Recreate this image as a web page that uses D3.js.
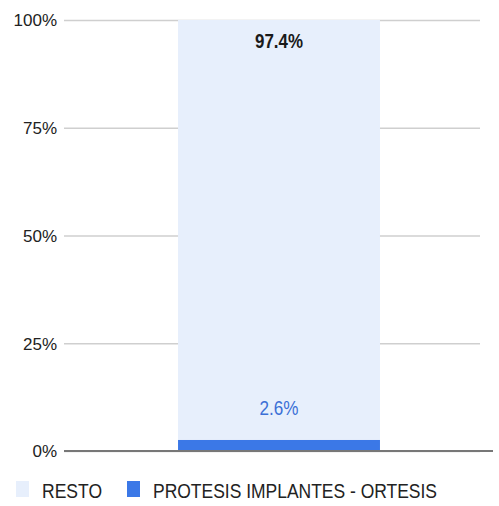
<!DOCTYPE html>
<html>
<head>
<meta charset="utf-8">
<script src="https://cdn.jsdelivr.net/npm/d3@7"></script>
<style>
  body { margin: 0; background: #fff; }
  text { font-family: "Liberation Sans", Arial, sans-serif; }
</style>
</head>
<body>
<div id="chart"></div>
<script>
// Chart data
var categories = ["Total"];
var seriesNames = ["PROTESIS  IMPLANTES - ORTESIS", "RESTO"];
var protesisVals = [0.026];
var restoVals = [0.974];
var yTicks = [0, 0.25, 0.5, 0.75, 1];

var svgWdt = 499;
var svgHgt = 506;
var margins = { top: 20, right: 19, bottom: 55, left: 64 };
var gridEnd = 480;

var svg = d3.select("#chart").append("svg")
    .attr("width", svgWdt)
    .attr("height", svgHgt);

// Scales
var yScale = d3.scaleLinear().domain([0, 1]).range([svgHgt - margins.bottom, margins.top]);
var xScale = d3.scaleBand().domain(categories)
    .range([margins.left + 7, gridEnd + 7])
    .paddingInner(0)
    .paddingOuter(0.53);

// Gridlines + tick labels
var yAxis = d3.axisLeft(yScale)
    .tickValues(yTicks)
    .tickFormat(d3.format(".0%"))
    .tickSize(-(gridEnd - margins.left))
    .tickPadding(7);

var axisGrp = svg.append("g")
    .attr("transform", `translate(${margins.left}, 0)`)
    .call(yAxis);
axisGrp.select(".domain").remove();
axisGrp.selectAll(".tick line")
    .attr("stroke", "#cfcfcf")
    .attr("stroke-width", 1.5);
axisGrp.selectAll(".tick text")
    .attr("fill", "#222")
    .attr("font-size", 17)
    .attr("dy", "0.35em");

// Stack the series
var rows = categories.map((c, i) => ({ cat: c, protesis: protesisVals[i], resto: restoVals[i] }));
var stack = d3.stack().keys(["protesis", "resto"])(rows);
var colors = { protesis: "#3b78e7", resto: "#e7effc" };

stack.forEach(layer => {
    svg.append("g").selectAll("rect").data(layer)
        .enter()
        .append("rect")
            .attr("x", d => xScale(d.data.cat))
            .attr("width", xScale.bandwidth())
            .attr("y", d => yScale(d[1]))
            .attr("height", d => yScale(d[0]) - yScale(d[1]))
            .attr("fill", colors[layer.key]);
});

// Baseline
svg.append("line")
    .attr("x1", margins.left)
    .attr("x2", 493)
    .attr("y1", yScale(0))
    .attr("y2", yScale(0))
    .attr("stroke", "#777")
    .attr("stroke-width", 2);

// Value labels
var fmt = d3.format(".1%");
rows.forEach(r => {
    var cx = xScale(r.cat) + xScale.bandwidth() / 2;
    svg.append("text")
        .attr("x", cx)
        .attr("y", yScale(1) + 28)
        .attr("text-anchor", "middle")
        .attr("font-size", 21)
        .attr("font-weight", "bold")
        .attr("fill", "#1a1a1a")
        .attr("textLength", 48)
        .attr("lengthAdjust", "spacingAndGlyphs")
        .text(fmt(r.resto));
    svg.append("text")
        .attr("x", cx)
        .attr("y", yScale(r.protesis) - 25)
        .attr("text-anchor", "middle")
        .attr("font-size", 20)
        .attr("fill", "#3b6fd6")
        .attr("textLength", 39)
        .attr("lengthAdjust", "spacingAndGlyphs")
        .text(fmt(r.protesis));
});

// Legend
var legend = [
    { name: seriesNames[1], key: "resto", sx: 16, tx: 42, len: 60 },
    { name: seriesNames[0], key: "protesis", sx: 127, tx: 153, len: 284 }
];
legend.forEach(l => {
    svg.append("rect")
        .attr("x", l.sx)
        .attr("y", 481)
        .attr("width", 13)
        .attr("height", 16)
        .attr("fill", colors[l.key]);
    svg.append("text")
        .attr("x", l.tx)
        .attr("y", 498)
        .attr("font-size", 21)
        .attr("fill", "#222")
        .attr("textLength", l.len)
        .attr("lengthAdjust", "spacingAndGlyphs")
        .text(l.name);
});
</script>
</body>
</html>
